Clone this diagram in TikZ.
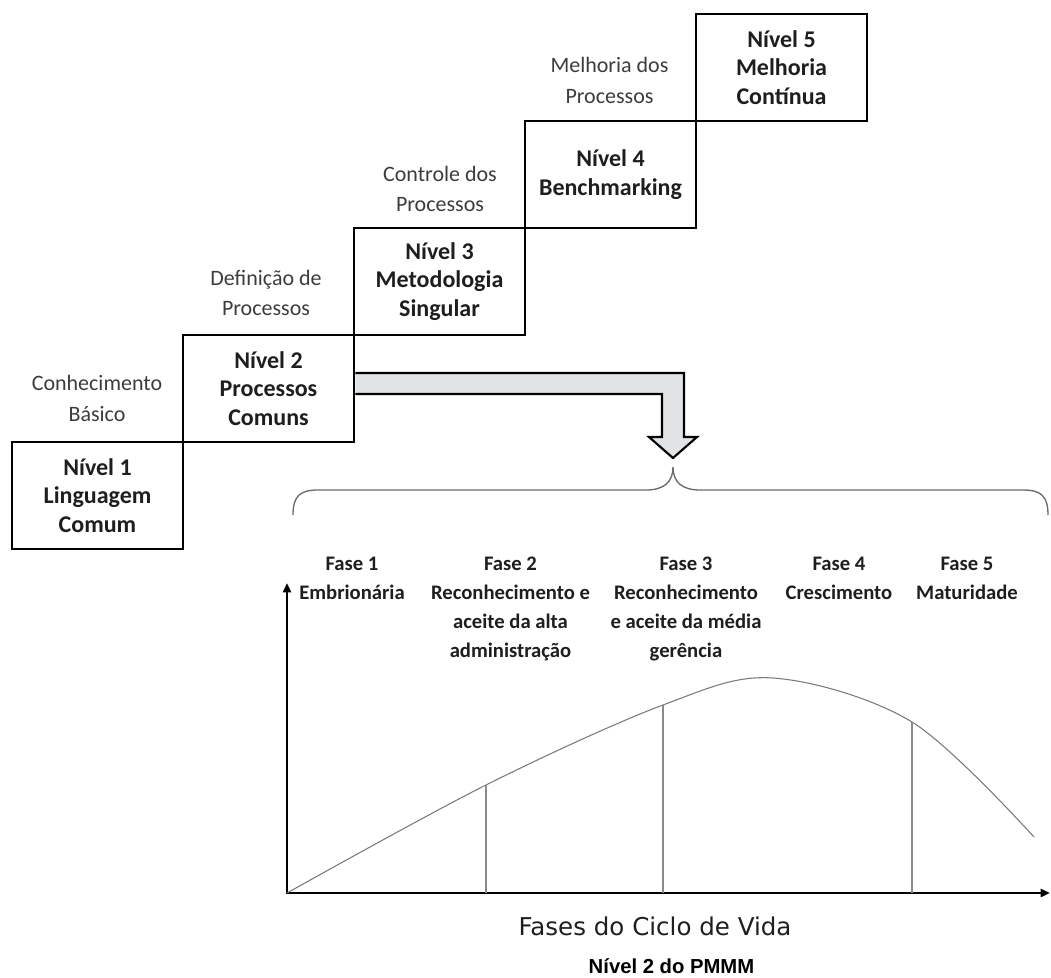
\documentclass[tikz,border=0pt]{standalone}
\usepackage{fontspec}
\setmainfont{Carlito}
\newfontfamily\headf{Liberation Sans}
\newfontfamily\axisf{DejaVu Sans}
\usetikzlibrary{arrows.meta}
\definecolor{boxtxt}{HTML}{1E1E1E}
\definecolor{steptxt}{HTML}{3C3C3C}
\definecolor{arrowfill}{HTML}{E2E3E5}
\definecolor{curvegray}{HTML}{7A7A7A}
\definecolor{bracegray}{HTML}{6A6A6A}
\definecolor{vlinegray}{HTML}{8A8A8A}
\begin{document}
\begin{tikzpicture}[x=0.75pt,y=-0.75pt,
  levelbox/.style={draw, line width=2pt, minimum width=128.25pt, minimum height=80.25pt,
    inner sep=0pt, align=center, text=boxtxt, font=\bfseries\fontsize{18}{21.4}\selectfont},
  steplabel/.style={align=center, inner sep=0pt, text=steptxt, font=\fontsize{16.5}{22.9}\selectfont},
  phaselabel/.style={align=center, inner sep=0pt, anchor=north, text=boxtxt,
    font=\bfseries\fontsize{15.5}{21.75}\selectfont},
  bigarrow/.style={draw=black, line width=1.6pt, fill=arrowfill, line join=miter},
  bracestyle/.style={draw=bracegray, line width=1pt},
  axisline/.style={draw=black, line width=2.2pt, line join=miter},
  curveline/.style={draw=curvegray, line width=0.8pt},
  vline/.style={draw=vlinegray, line width=0.8pt}
]
\useasboundingbox (0,0) rectangle (1051,978);

% level boxes
\node[levelbox] (b1) at (97.5,495.5) {Nível 1\\Linguagem\\Comum};
\node[levelbox] (b2) at (268.5,388.5) {Nível 2\\Processos\\Comuns};
\node[levelbox] (b3) at (439.5,281.5) {Nível 3\\Metodologia\\Singular};
\node[levelbox] (b4) at (610.5,174.5) {Nível 4\\Benchmarking};
\node[levelbox] (b5) at (781.5,67.5) {Nível 5\\Melhoria\\Contínua};

% step labels
\node[steplabel] (s1) at (97,398.5) {Conhecimento\\Básico};
\node[steplabel] (s2) at (266,293) {Definição de\\Processos};
\node[steplabel] (s3) at (440,189) {Controle dos\\Processos};
\node[steplabel] (s4) at (609.5,80.5) {Melhoria dos\\Processos};

% big bent arrow
\coordinate (a0) at (b2.east |- {(0,373)});
\coordinate (a1) at (684,373);
\coordinate (a2) at (684,437);
\coordinate (a3) at (697,437);
\coordinate (tip) at (673,458);
\coordinate (a5) at (649,437);
\coordinate (a6) at (662,437);
\coordinate (a7) at (662,394);
\coordinate (a8) at (b2.east |- {(0,394)});
\path[bigarrow] (a0) -- (a1) -- (a2) -- (a3) -- (tip) -- (a5) -- (a6) -- (a7) -- (a8);

% brace
\coordinate (bl) at (293,515);
\coordinate (bm) at (673,467);
\coordinate (br) at (1048,515);
\path[bracestyle] (bl) .. controls (293,496) and (300,490) .. (318,490) -- (646,490)
  .. controls (664,490) and (673,482) .. (bm)
  .. controls (673,482) and (682,490) .. (700,490) -- (1023,490)
  .. controls (1041,490) and (1048,496) .. (br);

% phase labels
\node[phaselabel] (f1) at (352,556.5) {Fase 1\\Embrionária};
\node[phaselabel] (f2) at (510.5,556.5) {Fase 2\\Reconhecimento e\\aceite da alta\\administração};
\node[phaselabel] (f3) at (686,556.5) {Fase 3\\Reconhecimento\\e aceite da média\\gerência};
\node[phaselabel] (f4) at (839,556.5) {Fase 4\\Crescimento};
\node[phaselabel] (f5) at (967,556.5) {Fase 5\\Maturidade};

% axes
\coordinate (O) at (287,893);
\coordinate (ytop) at (287,583);
\coordinate (xend) at (1050,893);
\path[axisline, {Triangle[length=7pt,width=6pt]}-{Triangle[length=7pt,width=6pt]}] (ytop) -- (O) -- (xend);

% curve
\coordinate (p1) at (486,785);
\coordinate (p2) at (663,705);
\coordinate (p3) at (773,678);
\coordinate (p4) at (912,722);
\coordinate (p5) at (1034,837);
\draw[curveline] plot[smooth, tension=0.55] coordinates {(O) (p1) (p2) (p3) (p4) (p5)};

% phase separators
\draw[vline] (p1) -- (p1 |- O);
\draw[vline] (p2) -- (p2 |- O);
\draw[vline] (p4) -- (p4 |- O);

% titles
\node[inner sep=0pt, text=boxtxt, font=\axisf\fontsize{18.4}{22}\selectfont] (t1) at (655,926) {Fases do Ciclo de Vida};
\node[inner sep=0pt, text=black, font=\headf\bfseries\fontsize{15.2}{18}\selectfont] (t2) at (671.5,966) {Nível 2 do PMMM};
\end{tikzpicture}
\end{document}
